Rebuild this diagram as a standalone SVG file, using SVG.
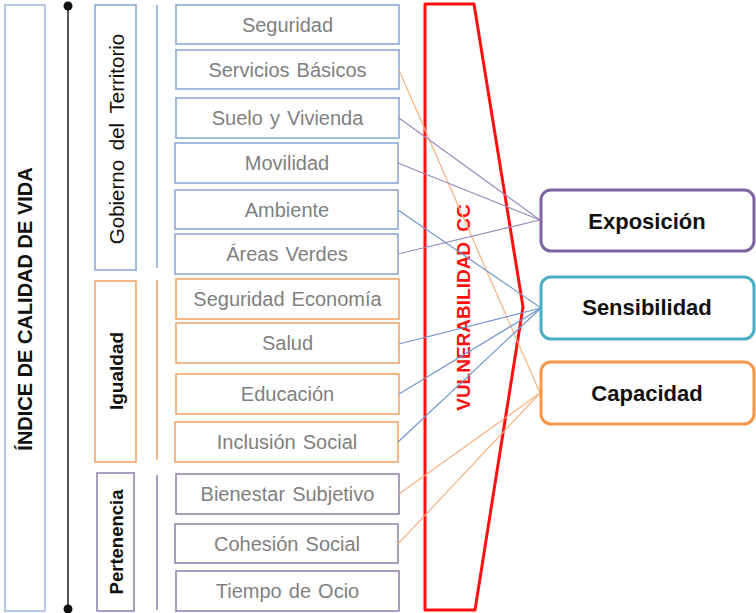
<svg xmlns="http://www.w3.org/2000/svg" width="756" height="613" viewBox="0 0 756 613">
<style>
.bg{fill:#fff}
.item{fill:#fff;stroke-width:1.5}
.b{stroke:#86A4D6}
.o{stroke:#F2A261}
.p{stroke:#8E7DAA}
.it{font-family:"Liberation Sans",Arial,sans-serif;font-size:20px;fill:#7f7f7f;text-anchor:middle;dominant-baseline:central;word-spacing:1.5px}
.cat{font-family:"Liberation Sans",Arial,sans-serif;fill:#111;text-anchor:middle;dominant-baseline:central}
.res{fill:#fff;stroke-width:3}
.rt{font-family:"Liberation Sans",Arial,sans-serif;font-size:22px;font-weight:bold;fill:#111;text-anchor:middle;dominant-baseline:central}
.cb{stroke:#6F97CC;stroke-width:1.2;fill:none}
.cp{stroke:#9A89BD;stroke-width:1.2;fill:none}
.co{stroke:#F7B27F;stroke-width:1.2;fill:none}
</style>
<rect class="bg" x="0" y="0" width="756" height="613"/>

<g id="indice">
<rect x="5" y="5" width="40" height="606" fill="#fff" stroke="#9DB7E0" stroke-width="1.5"/>
<text class="cat" transform="translate(25,309) rotate(-90)" font-size="20" font-weight="bold" fill="#262626">ÍNDICE DE CALIDAD DE VIDA</text>
</g>

<g id="axis">
<line x1="68" y1="6" x2="68" y2="609" stroke="#555" stroke-width="2"/>
<circle cx="68" cy="6" r="4.5" fill="#111"/>
<circle cx="68" cy="609" r="4.5" fill="#111"/>
</g>

<g id="gobierno">
<rect x="95" y="5" width="41" height="265" fill="#fff" stroke="#86A4D6" stroke-width="1.5"/>
<text class="cat" transform="translate(116,139) rotate(-90)" font-size="20.5" word-spacing="4">Gobierno del Territorio</text>
<line x1="157" y1="5" x2="157" y2="268" stroke="#86A4D6" stroke-width="1.5"/>
</g>
<g id="igualdad">
<rect x="95" y="281" width="41" height="181" fill="#fff" stroke="#F2A261" stroke-width="1.5"/>
<text class="cat" transform="translate(116,371) rotate(-90)" font-size="19" font-weight="bold">Igualdad</text>
<line x1="157" y1="280" x2="157" y2="460" stroke="#F2A261" stroke-width="1.5"/>
</g>
<g id="pertenencia">
<rect x="97" y="473" width="37" height="138" fill="#fff" stroke="#8E7DAA" stroke-width="1.5"/>
<text class="cat" transform="translate(116,542) rotate(-90)" font-size="18.5" font-weight="bold">Pertenencia</text>
<line x1="157" y1="475" x2="157" y2="610" stroke="#8E7DAA" stroke-width="1.5"/>
</g>

<g id="seguridad"><rect class="item b" x="176" y="5" width="223" height="39"/><text class="it" x="287.5" y="24.5">Seguridad</text></g>
<g id="servicios"><rect class="item b" x="176" y="50" width="223" height="39"/><text class="it" x="287.5" y="69.5">Servicios Básicos</text></g>
<g id="suelo"><rect class="item b" x="176" y="98" width="223" height="40"/><text class="it" x="287.5" y="118">Suelo y Vivienda</text></g>
<g id="movilidad"><rect class="item b" x="175" y="143" width="223" height="40"/><text class="it" x="287" y="163">Movilidad</text></g>
<g id="ambiente"><rect class="item b" x="175" y="190" width="223" height="39"/><text class="it" x="287" y="209.5">Ambiente</text></g>
<g id="areas"><rect class="item b" x="175" y="234" width="223" height="40"/><text class="it" x="287" y="254">Áreas Verdes</text></g>
<g id="segeco"><rect class="item o" x="176" y="279" width="223" height="40"/><text class="it" x="287.5" y="299">Seguridad Economía</text></g>
<g id="salud"><rect class="item o" x="176" y="323" width="223" height="40"/><text class="it" x="287.5" y="343">Salud</text></g>
<g id="educacion"><rect class="item o" x="176" y="374" width="223" height="40"/><text class="it" x="287.5" y="394">Educación</text></g>
<g id="inclusion"><rect class="item o" x="175" y="422" width="223" height="40"/><text class="it" x="287" y="442">Inclusión Social</text></g>
<g id="bienestar"><rect class="item p" x="176" y="474" width="223" height="40"/><text class="it" x="287.5" y="494">Bienestar Subjetivo</text></g>
<g id="cohesion"><rect class="item p" x="175" y="524" width="223" height="39"/><text class="it" x="287" y="543.5">Cohesión Social</text></g>
<g id="ocio"><rect class="item p" x="176" y="571" width="223" height="40"/><text class="it" x="287.5" y="591">Tiempo de Ocio</text></g>

<g id="vulnerabilidad">
<polygon points="425,4 474,4 523,307 475,610 425,610" fill="none" stroke="#FF1010" stroke-width="3" stroke-linejoin="round"/>
<text transform="translate(463.5,307.5) rotate(-90)" font-family="'Liberation Sans',Arial,sans-serif" font-size="19" font-weight="bold" fill="#FF1010" text-anchor="middle" dominant-baseline="central" word-spacing="5">VULNERABILIDAD CC</text>
</g>

<g id="connectors">
<line class="co" x1="399" y1="70" x2="540" y2="393"/>
<line class="cp" x1="399" y1="118" x2="540" y2="220"/>
<line class="cp" x1="398" y1="163" x2="540" y2="220"/>
<line class="cb" x1="398" y1="210" x2="541" y2="308"/>
<line class="cp" x1="398" y1="254" x2="540" y2="220"/>
<line class="cb" x1="399" y1="344" x2="541" y2="308"/>
<line class="cb" x1="399" y1="394" x2="541" y2="308"/>
<line class="cb" x1="398" y1="442" x2="541" y2="308"/>
<line class="co" x1="399" y1="494" x2="540" y2="393"/>
<line class="co" x1="398" y1="544" x2="540" y2="393"/>
</g>

<g id="exposicion"><rect class="res" x="541" y="190" width="213" height="61" rx="10" stroke="#8064A2"/><text class="rt" x="647" y="221">Exposición</text></g>
<g id="sensibilidad"><rect class="res" x="541" y="277" width="213" height="62" rx="10" stroke="#4BACC6"/><text class="rt" x="647" y="307">Sensibilidad</text></g>
<g id="capacidad"><rect class="res" x="541" y="362" width="213" height="62" rx="10" stroke="#F79646"/><text class="rt" x="647" y="393">Capacidad</text></g>
</svg>
